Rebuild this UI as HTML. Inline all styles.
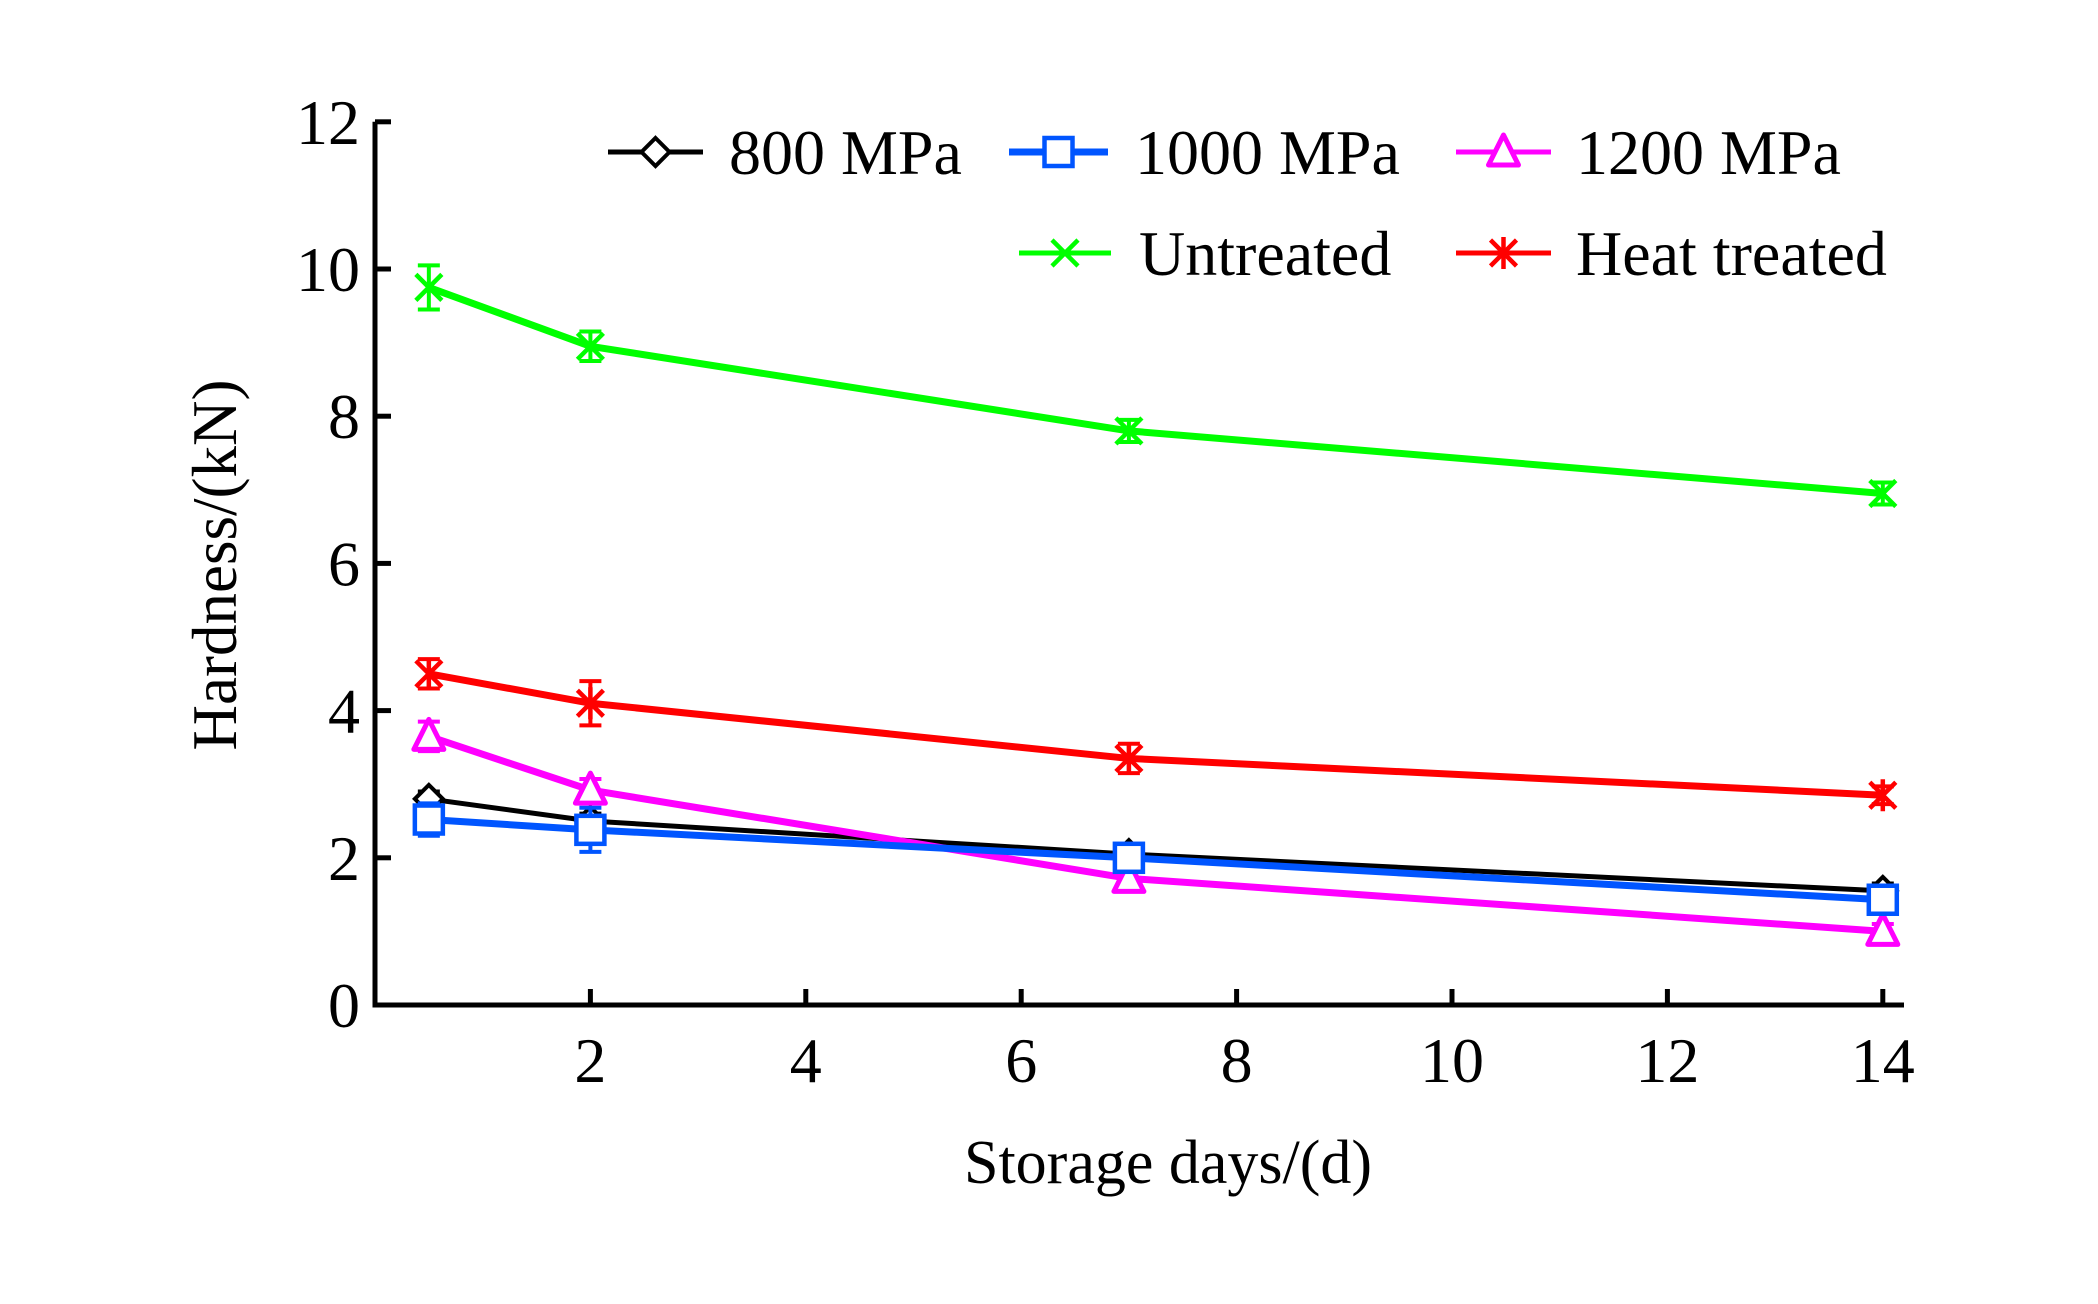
<!DOCTYPE html>
<html><head><meta charset="utf-8"><style>
html,body{margin:0;padding:0;background:#fff}
svg text{font-family:"Liberation Serif",serif;fill:#000}
</style></head><body>
<svg id="chart" width="2098" height="1299" viewBox="0 0 2098 1299" xmlns="http://www.w3.org/2000/svg">
<g id="axes"></g>
<g id="series"></g>
<g id="legend"></g>
<text transform="translate(236,565) rotate(-90)" text-anchor="middle" font-size="63">Hardness/(kN)</text>
<text x="1168" y="1183" text-anchor="middle" font-size="62">Storage days/(d)</text>
</svg>
<script>
const days = [0.5, 2, 7, 14];
const xTicks = [2, 4, 6, 8, 10, 12, 14];
const yTicks = [0, 2, 4, 6, 8, 10, 12];
const v800 = [2.8, 2.5, 2.05, 1.55];
const e800 = [0.1, 0.1, 0.1, 0.1];
const v1000 = [2.52, 2.38, 2.0, 1.43];
const e1000 = [0.22, 0.3, 0.1, 0.1];
const v1200 = [3.65, 2.92, 1.72, 1.0];
const e1200 = [0.2, 0.15, 0.1, 0.1];
const vUntreated = [9.75, 8.95, 7.8, 6.95];
const eUntreated = [0.3, 0.2, 0.15, 0.15];
const vHeat = [4.5, 4.1, 3.35, 2.85];
const eHeat = [0.2, 0.3, 0.2, 0.12];

const NS = "http://www.w3.org/2000/svg";
const X0 = 375, XU = 107.7, Y0 = 1005, YU = 73.6;
const xs = d => X0 + d * XU;
const ys = v => Y0 - v * YU;
function mk(tag, attrs, parent){const e=document.createElementNS(NS,tag);for(const k in attrs)e.setAttribute(k,attrs[k]);parent.appendChild(e);return e;}

const axes = document.getElementById('axes');
let a = mk('path',{d:`M${X0} ${ys(12)} V${Y0} H1904`,fill:'none',stroke:'#000','stroke-width':5},axes);


yTicks.forEach(t=>{
  const l = mk('line',{x1:X0,x2:X0+16,y1:ys(t),y2:ys(t),stroke:'#000','stroke-width':5},axes);
  
  
  const tx = mk('text',{x:360,y:ys(t)+22,'text-anchor':'end','font-size':64},axes);
  tx.textContent = t;
  
  
});
xTicks.forEach(t=>{
  const l = mk('line',{x1:xs(t),x2:xs(t),y1:Y0,y2:Y0-16,stroke:'#000','stroke-width':5},axes);
  
  
  const tx = mk('text',{x:xs(t),y:1082,'text-anchor':'middle','font-size':64},axes);
  tx.textContent = t;
  
  
});

function marker(g, type, x, y, color){
  const s = 14;
  if(type==='diamond') mk('path',{d:`M${x} ${y-s} L${x+s} ${y} L${x} ${y+s} L${x-s} ${y} Z`,fill:'#fff',stroke:color,'stroke-width':4},g);
  if(type==='square') mk('rect',{x:x-14,y:y-14,width:28,height:28,fill:'#fff',stroke:color,'stroke-width':4.5},g);
  if(type==='triangle') mk('path',{d:`M${x} ${y-17} L${x+15} ${y+13} L${x-15} ${y+13} Z`,fill:'#fff',stroke:color,'stroke-width':5,'stroke-linejoin':'round'},g);
  if(type==='x') mk('path',{d:`M${x-13} ${y-13} L${x+13} ${y+13} M${x-13} ${y+13} L${x+13} ${y-13}`,stroke:color,'stroke-width':4.5},g);
  if(type==='star') mk('path',{d:`M${x-13} ${y-13} L${x+13} ${y+13} M${x-13} ${y+13} L${x+13} ${y-13} M${x} ${y-16} V${y+16}`,stroke:color,'stroke-width':4.5},g);
}

const seriesDefs = [
  {name:'series-untreated', vals:vUntreated, errs:eUntreated, color:'#00ff00', m:'x', w:7},
  {name:'series-heat-treated', vals:vHeat, errs:eHeat, color:'#ff0000', m:'star', w:7},
  {name:'series-800mpa', vals:v800, errs:e800, color:'#000000', m:'diamond', w:5},
  {name:'series-1200mpa', vals:v1200, errs:e1200, color:'#ff00ff', m:'triangle', w:7},
  {name:'series-1000mpa', vals:v1000, errs:e1000, color:'#0055ff', m:'square', w:7}
];
const sg = document.getElementById('series');
seriesDefs.forEach(s=>{
  const g = mk('g',{},sg);
  
  
  const pts = days.map((d,i)=>`${xs(d)},${ys(s.vals[i])}`).join(' ');
  const pl = mk('polyline',{points:pts,fill:'none',stroke:s.color,'stroke-width':s.w,'stroke-linejoin':'round'},g);
  
  
  days.forEach((d,i)=>{
    const x=xs(d), y1=ys(s.vals[i]-s.errs[i]), y2=ys(s.vals[i]+s.errs[i]);
    const eb = mk('path',{d:`M${x} ${y1} V${y2} M${x-11} ${y1} H${x+11} M${x-11} ${y2} H${x+11}`,stroke:s.color,'stroke-width':4,fill:'none'},g);
    
    
    marker(g, s.m, x, ys(s.vals[i]), s.color);
  });
});

const lg = document.getElementById('legend');
const legendItems = [
  {label:'800 MPa', x1:608, x2:703, tx:729, y:152, color:'#000', m:'diamond', w:5},
  {label:'1000 MPa', x1:1009, x2:1108, tx:1135, y:152, color:'#0055ff', m:'square', w:7},
  {label:'1200 MPa', x1:1456, x2:1551, tx:1576, y:152, color:'#ff00ff', m:'triangle', w:5},
  {label:'Untreated', x1:1019, x2:1111, tx:1139, y:253, color:'#00ff00', m:'x', w:5},
  {label:'Heat treated', x1:1456, x2:1551, tx:1576, y:253, color:'#ff0000', m:'star', w:5}
];
legendItems.forEach(it=>{
  const g = mk('g',{},lg);
  
  
  mk('line',{x1:it.x1,x2:it.x2,y1:it.y,y2:it.y,stroke:it.color,'stroke-width':it.w},g);
  marker(g, it.m, (it.x1+it.x2)/2, it.y, it.color);
  const t = mk('text',{x:it.tx,y:it.y+22,'font-size':64},g);
  t.textContent = it.label;
});
</script>
</body></html>
